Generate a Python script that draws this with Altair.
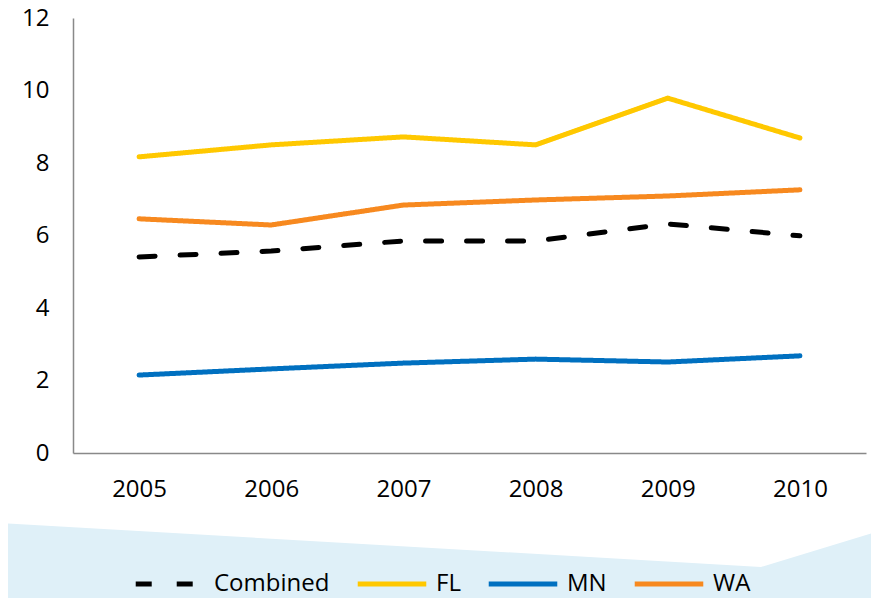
import altair as alt
import pandas as pd

years = ["2005", "2006", "2007", "2008", "2009", "2010"]
series_names = ["Combined", "FL", "MN", "WA"]
combined = [5.41, 5.57, 5.85, 5.85, 6.32, 5.99]
fl = [8.17, 8.50, 8.72, 8.50, 9.79, 8.69]
mn = [2.15, 2.32, 2.48, 2.59, 2.51, 2.68]
wa = [6.46, 6.29, 6.84, 6.98, 7.09, 7.26]
y_ticks = [0, 2, 4, 6, 8, 10, 12]

# decorative light-blue band behind the legend (pixel positions relative to plot origin)
deco_x = [-73, 688, 806]
deco_y = [505, 549, 513]
deco_bottom = [600, 600, 600]

rows = []
for name, vals in zip(series_names, [combined, fl, mn, wa]):
    for yr, v in zip(years, vals):
        rows.append({"year": yr, "value": v, "series": name})
df = pd.DataFrame(rows)
deco = pd.DataFrame({"px": deco_x, "py": deco_y, "pb": deco_bottom})

W, H = 793, 435
FONT = "Open Sans"

band = alt.Chart(deco).mark_area(color="#dff0f8", opacity=1, orient="vertical").encode(
    x=alt.X("px:Q", scale=None, axis=None),
    y=alt.Y("py:Q", scale=None, axis=None),
    y2=alt.Y2("pb:Q"),
)

legend_opts = dict(orient="none", legendX=60, legendY=529, direction="horizontal",
                   symbolType="stroke", symbolSize=4700, symbolStrokeWidth=5,
                   labelFontSize=24, labelFont=FONT, labelColor="#000000",
                   labelOffset=7, columnPadding=17, zindex=2)

lines = alt.Chart(df).mark_line(strokeWidth=5, strokeCap="round", strokeJoin="round").encode(
    x=alt.X("year:O", title=None, sort=years,
            axis=alt.Axis(labelAngle=0, ticks=False, domainColor="#898989", domainWidth=1.5,
                          labelFontSize=24, labelFont=FONT, labelColor="#000000",
                          labelPadding=24, grid=False, zindex=1)),
    y=alt.Y("value:Q", title=None,
            scale=alt.Scale(domain=[0, 12], nice=False, zero=True),
            axis=alt.Axis(values=y_ticks, ticks=False, domainColor="#898989", domainWidth=1.5,
                          labelFontSize=24, labelFont=FONT, labelColor="#000000",
                          labelPadding=24, grid=False, zindex=1)),
    color=alt.Color("series:N", title=None,
                    scale=alt.Scale(domain=series_names,
                                    range=["#000000", "#FFC800", "#0070C0", "#F7891F"]),
                    legend=alt.Legend(**legend_opts)),
    strokeDash=alt.StrokeDash("series:N", title=None,
                              scale=alt.Scale(domain=series_names,
                                              range=[[16, 25], [1, 0], [1, 0], [1, 0]]),
                              legend=alt.Legend(**legend_opts)),
)

chart = alt.layer(band, lines).resolve_scale(x="independent", y="independent").properties(
    width=W, height=H,
    autosize=alt.AutoSizeParams(type="none"),
    padding={"left": 65, "top": 10, "right": 5, "bottom": 145},
    background="#ffffff",
).configure_view(stroke=None)

chart.save("out.html", embed_options={"renderer": "svg", "actions": False})
